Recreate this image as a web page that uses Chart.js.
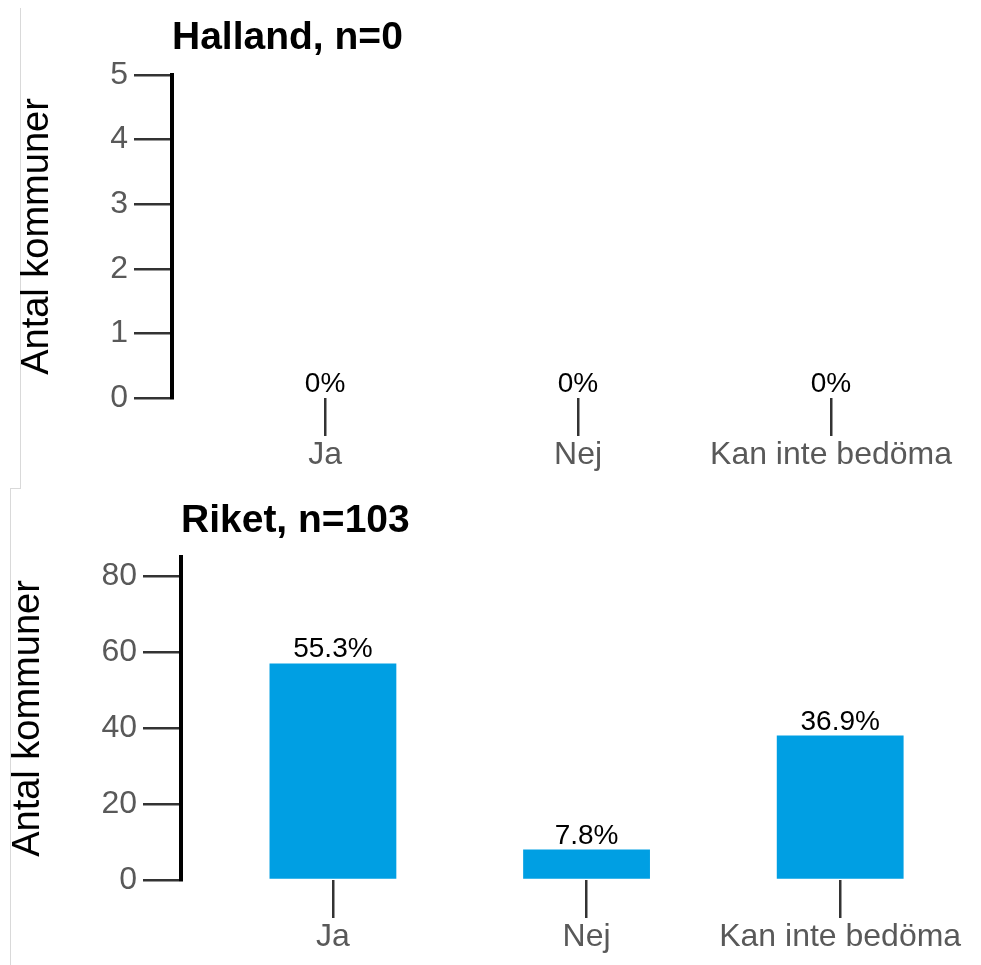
<!DOCTYPE html>
<html>
<head>
<meta charset="utf-8">
<script src="https://cdn.jsdelivr.net/npm/chart.js@4.4.1/dist/chart.umd.min.js"></script>
<style>
  html, body { margin: 0; padding: 0; background: #fff; }
  body { width: 981px; height: 965px; position: relative; overflow: hidden; }
  #wrapTop { position: absolute; left: 0; top: 0; width: 981px; height: 487px; }
  #wrapBottom { position: absolute; left: 0; top: 487px; width: 981px; height: 478px; }
  canvas { display: block; }
  .edge { position: absolute; background: #d9d9d9; }
</style>
</head>
<body>
<div class="edge" style="left:20px; top:8px; width:1px; height:481px;"></div>
<div class="edge" style="left:10px; top:488px; width:11px; height:1px;"></div>
<div class="edge" style="left:10px; top:488px; width:1px; height:477px;"></div>
<div id="wrapTop"><canvas id="chartTop" width="981" height="487"></canvas></div>
<div id="wrapBottom"><canvas id="chartBottom" width="981" height="478"></canvas></div>
<script>
// ---- Data ----
const categories = ['Ja', 'Nej', 'Kan inte bedöma'];

const hallandTitle = 'Halland, n=0';
const hallandCounts = [0, 0, 0];
const hallandPct = ['0%', '0%', '0%'];
const hallandYTicks = [0, 1, 2, 3, 4, 5];
const hallandYMax = 5;

const riketTitle = 'Riket, n=103';
const riketCounts = [57, 8, 38];
const riketPct = ['55.3%', '7.8%', '36.9%'];
const riketYTicks = [0, 20, 40, 60, 80];
const riketYMax = 85;

const yAxisTitle = 'Antal kommuner';

// ---- Rendering ----
const FONT = "'Liberation Sans', Arial, sans-serif";
const barColor = '#009FE3';

const pctLabelPlugin = {
  id: 'pctLabels',
  afterDatasetsDraw(chart, args, opts) {
    const ctx = chart.ctx;
    const meta = chart.getDatasetMeta(0);
    ctx.save();
    ctx.font = '28px ' + FONT;
    ctx.fillStyle = '#000';
    ctx.textAlign = 'center';
    ctx.textBaseline = 'alphabetic';
    meta.data.forEach((bar, i) => {
      ctx.fillText(opts.labels[i], bar.x, bar.y - 6);
    });
    ctx.restore();
  }
};

function makeChart(id, cfg) {
  const ctx = document.getElementById(id);
  return new Chart(ctx, {
    type: 'bar',
    data: {
      datasets: [{
        data: cfg.counts.map((v, i) => ({ x: i, y: v })),
        backgroundColor: barColor,
        borderWidth: 0,
        barPercentage: 0.5,
        categoryPercentage: 1.0
      }]
    },
    plugins: [pctLabelPlugin],
    options: {
      responsive: false,
      animation: false,
      devicePixelRatio: 1,
      layout: { padding: { left: 0, right: cfg.padRight, top: 0, bottom: 0 } },
      plugins: {
        legend: { display: false },
        tooltip: { enabled: false },
        pctLabels: { labels: cfg.pct },
        title: {
          display: true,
          text: cfg.title,
          align: 'start',
          fullSize: false,
          color: '#000',
          font: { family: FONT, size: 39, weight: 'bold', lineHeight: 1.2 },
          padding: { top: cfg.titlePadTop, bottom: cfg.titlePadBottom }
        }
      },
      scales: {
        x: {
          type: 'linear',
          min: cfg.xMin,
          max: 2.5,
          offset: false,
          afterBuildTicks(scale) {
            scale.ticks = categories.map((c, i) => ({ value: i }));
          },
          afterFit(scale) { scale.height = cfg.xHeight; },
          ticks: {
            callback: (v) => categories[v],
            color: '#595959',
            font: { family: FONT, size: 32 },
            padding: 0,
            maxRotation: 0,
            autoSkip: false
          },
          grid: {
            display: true,
            offset: false,
            drawOnChartArea: false,
            drawTicks: true,
            tickLength: 38,
            color: '#333',
            lineWidth: 2.5
          },
          border: { display: false }
        },
        y: {
          min: 0,
          max: cfg.yMax,
          afterBuildTicks(scale) {
            scale.ticks = cfg.yTicks.map(v => ({ value: v }));
          },
          afterFit(scale) { scale.width = cfg.yWidth; },
          ticks: {
            color: '#595959',
            font: { family: FONT, size: 32 },
            padding: 6
          },
          grid: {
            display: true,
            drawOnChartArea: false,
            drawTicks: true,
            tickLength: 38,
            color: '#333',
            lineWidth: 2.5
          },
          border: { display: true, color: '#000', width: 4 },
          title: {
            display: true,
            text: yAxisTitle,
            color: '#000',
            font: { family: FONT, size: 38, lineHeight: 1.2 },
            padding: { top: cfg.yTitlePad, bottom: 0 }
          }
        }
      }
    }
  });
}

makeChart('chartTop', {
  title: hallandTitle, counts: hallandCounts, pct: hallandPct,
  yTicks: hallandYTicks, yMax: hallandYMax,
  xMin: -0.605, padRight: 23.5, yWidth: 172, xHeight: 89,
  titlePadTop: 14.6, titlePadBottom: 13.6, yTitlePad: 15
});

makeChart('chartBottom', {
  title: riketTitle, counts: riketCounts, pct: riketPct,
  yTicks: riketYTicks, yMax: riketYMax,
  xMin: -0.599, padRight: 14, yWidth: 181, xHeight: 85,
  titlePadTop: 10.6, titlePadBottom: 12.6, yTitlePad: 6
});
</script>
</body>
</html>
